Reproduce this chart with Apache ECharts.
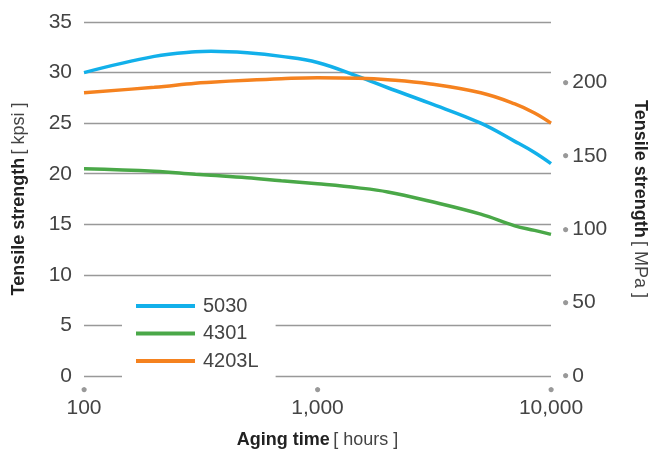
<!DOCTYPE html>
<html>
<head>
<meta charset="utf-8">
<script src="https://cdn.jsdelivr.net/npm/echarts@6/dist/echarts.min.js"></script>
<style>html,body{margin:0;padding:0;background:#fff;overflow:hidden}#c{width:657px;height:454px}</style>
</head>
<body>
<div id="c"></div>
<script>
const hours = [100, 200, 300, 350, 500, 700, 1000, 1500, 2000, 3000, 5000, 7000, 8500, 10000];
const s5030 = [30.0, 31.6, 32.05, 32.1, 31.95, 31.6, 31.0, 29.6, 28.5, 27.0, 25.0, 23.2, 22.1, 21.0];
const s4301 = [20.5, 20.25, 19.95, 19.85, 19.6, 19.3, 19.0, 18.6, 18.2, 17.3, 16.0, 14.85, 14.4, 14.0];
const s4203L = [28.0, 28.55, 28.95, 29.05, 29.25, 29.4, 29.5, 29.45, 29.3, 28.9, 28.0, 26.9, 26.0, 25.0];
const seriesNames = ['5030', '4301', '4203L'];
const kpsiTicks = [0, 5, 10, 15, 20, 25, 30, 35];
const mpaTicks = [0, 50, 100, 150, 200];
const xTicks = [100, 1000, 10000];

const KPSI_TO_MPA = 6.89476;
const colors = ['#12b0ea', '#4aa848', '#f5821f'];
const FONT = 'Liberation Sans';
const LBL = '#444';
const pair = a => hours.map((h, i) => [h, a[i]]);
const chart = echarts.init(document.getElementById('c'), null, {renderer: 'canvas'});
const mk = (name, data, color) => ({
  name, type: 'line', data: pair(data), smooth: 0.4, symbol: 'none',
  lineStyle: {color, width: 3.5}, itemStyle: {color}, z: 3
});
chart.setOption({
  animation: false,
  backgroundColor: '#fff',
  textStyle: {fontFamily: FONT},
  grid: {left: 84, right: 101, top: 22, bottom: 75},
  legend: {
    data: seriesNames, orient: 'vertical', left: 122, top: 288,
    backgroundColor: '#fff', padding: [8, 17, 8, 14],
    icon: 'rect', itemWidth: 59, itemHeight: 4, itemGap: 7.5,
    textStyle: {fontSize: 20, color: LBL, fontFamily: FONT, lineHeight: 18, padding: [0, 0, 0, 3]}
  },
  xAxis: {
    type: 'log', logBase: 10, min: 100, max: 10000,
    axisLine: {show: false}, axisTick: {show: false}, splitLine: {show: false},
    axisLabel: {
      margin: 8,
      formatter: v => xTicks.includes(Math.round(v)) ? '{d|●}\n{v|' + Math.round(v).toLocaleString('en-US') + '}' : '',
      rich: {
        d: {fontSize: 12, color: '#999', lineHeight: 12, align: 'center'},
        v: {fontSize: 21, color: LBL, lineHeight: 24, fontFamily: FONT, align: 'center'}
      }
    },
    name: '{b|Aging time} {l|[ hours ]}', nameLocation: 'middle', nameGap: 55,
    nameTextStyle: {rich: {
      b: {fontSize: 18, fontWeight: 'bold', color: '#222', fontFamily: FONT},
      l: {fontSize: 18, color: LBL, fontFamily: FONT}
    }}
  },
  yAxis: [{
    type: 'value', min: 0, max: 35, interval: 5,
    axisLine: {show: false}, axisTick: {show: false},
    splitLine: {lineStyle: {color: '#999', width: 1.3}},
    axisLabel: {margin: 12, fontSize: 21, color: LBL, fontFamily: FONT,
      formatter: v => kpsiTicks.includes(v) ? String(v) : ''},
    name: '{b|Tensile strength} {l|[ kpsi ]}', nameLocation: 'middle', nameGap: 56,
    nameTextStyle: {rich: {
      b: {fontSize: 18, fontWeight: 'bold', color: '#222', fontFamily: FONT},
      l: {fontSize: 18, color: LBL, fontFamily: FONT}
    }}
  }, {
    type: 'value', min: 0, max: 35 * KPSI_TO_MPA, interval: 50, position: 'right',
    axisLine: {show: false}, axisTick: {show: false}, splitLine: {show: false},
    axisLabel: {margin: 11,
      formatter: v => mpaTicks.includes(Math.round(v * 1000) / 1000) ? '{d|●}{v|' + v + '}' : '',
      rich: {
        d: {fontSize: 12, color: '#999'},
        v: {fontSize: 21, color: LBL, fontFamily: FONT, padding: [0, 0, 0, 3]}
      }},
    name: '{b|Tensile strength} {l|[ MPa ]}', nameLocation: 'middle', nameGap: 80, nameRotate: -90,
    nameTextStyle: {rich: {
      b: {fontSize: 18, fontWeight: 'bold', color: '#222', fontFamily: FONT},
      l: {fontSize: 18, color: LBL, fontFamily: FONT}
    }}
  }],
  series: [mk(seriesNames[0], s5030, colors[0]), mk(seriesNames[1], s4301, colors[1]), mk(seriesNames[2], s4203L, colors[2])]
});
</script>
</body>
</html>
